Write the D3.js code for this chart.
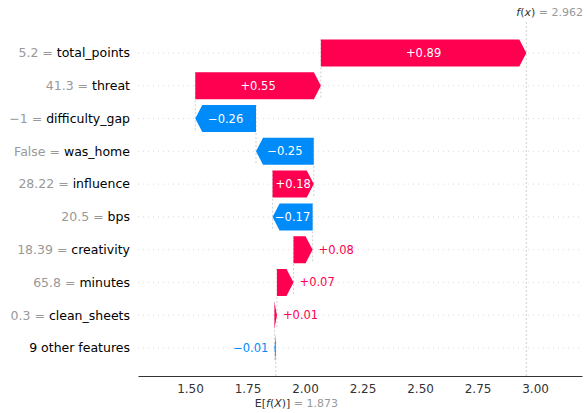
<!DOCTYPE html>
<html>
<head>
<meta charset="utf-8">
<script src="https://cdn.jsdelivr.net/npm/d3@7"></script>
<style>
  body { margin: 0; background: #fff; }
  svg { font-family: "DejaVu Sans", sans-serif; }
</style>
</head>
<body>
<div id="chart"></div>
<script>
// feature names, top to bottom
var features = ["total_points", "threat", "difficulty_gap", "was_home", "influence",
                "bps", "creativity", "minutes", "clean_sheets", "9 other features"];
var featureValues = ["5.2", "41.3", "\u22121", "False", "28.22", "20.5", "18.39", "65.8", "0.3", null];
var shapValues = [0.893, 0.546, -0.264, -0.251, 0.179, -0.174, 0.083, 0.072, 0.011, -0.006];
var baseValue = 1.873;
var xTicks = [1.50, 1.75, 2.00, 2.25, 2.50, 2.75, 3.00];

var width = 587, height = 413;
var pink = "#ff0051", blue = "#008bfb";

var svg = d3.select("#chart").append("svg")
    .attr("width", width)
    .attr("height", height);

var x = d3.scaleLinear().domain([1.274, 3.204]).range([138, 582]);
var y = d3.scalePoint().domain(features).range([53, 348]);
var barH = 27;
var headLen = 7;
var axisY = 376, topY = 22;

// cumulative positions, built from the base value upward
var bars = [];
var cum = baseValue;
for (var i = features.length - 1; i >= 0; i--) {
    bars[i] = { name: features[i], val: featureValues[i], v: shapValues[i], start: cum, end: cum + shapValues[i] };
    cum += shapValues[i];
}
var fx = cum;

// dotted row lines
svg.selectAll(".grid")
    .data(features)
    .enter().append("line")
    .attr("x1", 138).attr("x2", 582)
    .attr("y1", function(d) { return y(d); })
    .attr("y2", function(d) { return y(d); })
    .style("stroke", "#cccccc")
    .style("stroke-width", 0.7)
    .style("stroke-dasharray", "1,4");

// dashed connectors between bars
bars.forEach(function(b, i) {
    if (i < bars.length - 1) {
        svg.append("line")
            .attr("x1", x(b.start)).attr("x2", x(b.start))
            .attr("y1", y(b.name) - barH / 2)
            .attr("y2", y(features[i + 1]) + barH / 2)
            .style("stroke", "#bbbbbb")
            .style("stroke-width", 0.7)
            .style("stroke-dasharray", "2,2");
    }
});

// base value line and f(x) line
svg.append("line")
    .attr("x1", x(baseValue)).attr("x2", x(baseValue))
    .attr("y1", axisY).attr("y2", axisY - (axisY - topY) / features.length)
    .style("stroke", "#bbbbbb").style("stroke-width", 0.7).style("stroke-dasharray", "2,2");
svg.append("line")
    .attr("x1", x(fx)).attr("x2", x(fx))
    .attr("y1", topY).attr("y2", axisY)
    .style("stroke", "#bbbbbb").style("stroke-width", 0.7).style("stroke-dasharray", "2,2");

// arrow shaped bars
function arrow(b) {
    var x0 = x(b.start), x1 = x(b.end);
    var yc = y(b.name), t = yc - barH / 2, bt = yc + barH / 2;
    var dir = b.v >= 0 ? 1 : -1;
    var h = Math.min(headLen, Math.abs(x1 - x0));
    var xh = x1 - dir * h;
    return "M" + x0 + "," + t + "L" + xh + "," + t + "L" + x1 + "," + yc +
           "L" + xh + "," + bt + "L" + x0 + "," + bt + "Z";
}

svg.selectAll(".bar")
    .data(bars)
    .enter().append("path")
    .attr("class", "bar")
    .attr("d", arrow)
    .style("fill", function(d) { return d.v >= 0 ? pink : blue; });

function fmt(v) {
    return (v >= 0 ? "+" : "\u2212") + Math.abs(v).toFixed(2);
}

// value labels, inside if they fit
bars.forEach(function(b) {
    var col = b.v >= 0 ? pink : blue;
    var t = svg.append("text")
        .attr("x", x((b.start + b.end) / 2))
        .attr("y", y(b.name))
        .attr("dy", "0.35em")
        .style("font-size", "11.5px")
        .style("text-anchor", "middle")
        .style("fill", "white")
        .text(fmt(b.v));
    var tw = t.node().getComputedTextLength();
    var bw = Math.abs(x(b.end) - x(b.start));
    if (tw > bw) {
        t.style("fill", col)
            .attr("x", x(b.end) + (b.v >= 0 ? 6 : -6))
            .style("text-anchor", b.v >= 0 ? "start" : "end");
    }
});

// feature labels
bars.forEach(function(b) {
    var t = svg.append("text")
        .attr("x", 130)
        .attr("y", y(b.name))
        .attr("dy", "0.35em")
        .style("font-size", "12.5px")
        .style("text-anchor", "end");
    if (b.val !== null) {
        t.append("tspan").style("fill", "#999999").text(b.val + " = ");
    }
    t.append("tspan").style("fill", "#000000").text(b.name);
});

// x axis
var xAxis = d3.axisBottom(x).tickValues(xTicks).tickFormat(d3.format(".2f")).tickSize(0).tickPadding(8);
var ax = svg.append("g")
    .attr("transform", "translate(0," + axisY + ")")
    .call(xAxis);
ax.select(".domain").style("stroke", "#333333");
ax.selectAll("text")
    .style("font-size", "12px")
    .style("font-family", "DejaVu Sans, sans-serif")
    .style("fill", "#333333");

// E[f(X)] and f(x) labels
var eLab = svg.append("text")
    .attr("x", x(baseValue) - 21)
    .attr("y", 407)
    .style("font-size", "11px");
eLab.append("tspan").style("fill", "#333333").text("E[");
eLab.append("tspan").style("fill", "#333333").style("font-style", "italic").text("f");
eLab.append("tspan").style("fill", "#333333").text("(");
eLab.append("tspan").style("fill", "#333333").style("font-style", "italic").text("X");
eLab.append("tspan").style("fill", "#333333").text(")]");
eLab.append("tspan").style("fill", "#999999").text(" = " + baseValue.toFixed(3));

var fLab = svg.append("text")
    .attr("x", x(fx) - 10)
    .attr("y", 16)
    .style("font-size", "11px");
fLab.append("tspan").style("fill", "#333333").style("font-style", "italic").text("f");
fLab.append("tspan").style("fill", "#333333").text("(");
fLab.append("tspan").style("fill", "#333333").style("font-style", "italic").text("x");
fLab.append("tspan").style("fill", "#333333").text(")");
fLab.append("tspan").style("fill", "#999999").text(" = " + fx.toFixed(3));
</script>
</body>
</html>
